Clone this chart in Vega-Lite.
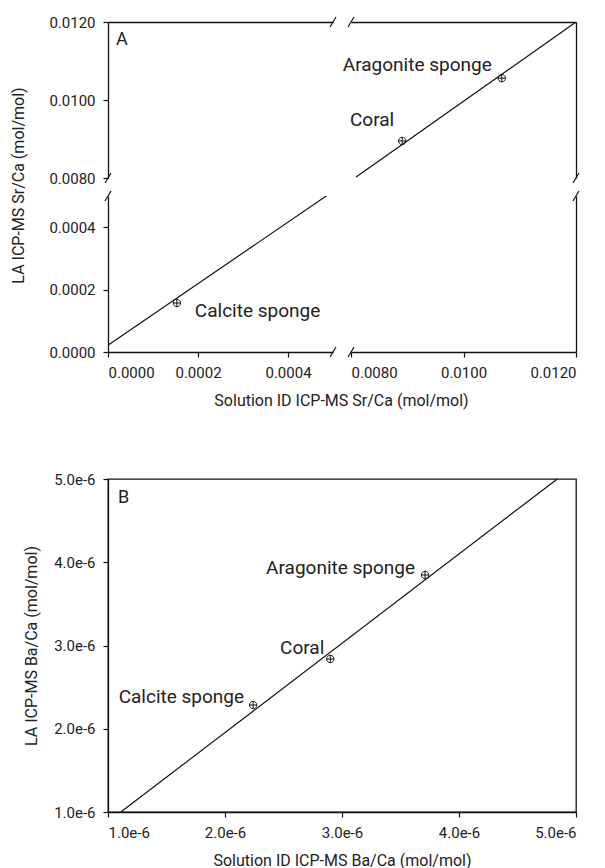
{
  "$schema": "https://vega.github.io/schema/vega-lite/v6.json",
  "padding": {"top": 14, "left": 10, "right": 5, "bottom": 2},
  "background": "white",
  "config": {
    "view": {"stroke": null},
    "font": "Roboto",
    "axis": {
      "grid": false,
      "domainColor": "#111",
      "domainWidth": 1.3,
      "tickColor": "#111",
      "tickWidth": 1.2,
      "tickSize": 5,
      "labelColor": "#222",
      "labelFont": "Roboto",
      "labelFontSize": 15,
      "labelPadding": 8,
      "titleFont": "Roboto",
      "titleFontSize": 16,
      "titleFontWeight": "normal",
      "titleColor": "#222"
    },
    "text": {"font": "Roboto", "fontSize": 19, "color": "#222"}
  },
  "datasets": {
    "ptsA": [
      {"name": "Calcite sponge", "x": 0.000153, "y": 0.000157},
      {"name": "Coral", "x": 0.00891, "y": 0.00895},
      {"name": "Aragonite sponge", "x": 0.01068, "y": 0.01056}
    ],
    "lineA": [
      {"seg": "low", "x": 0, "y": 0.000022},
      {"seg": "low", "x": 0.000487, "y": 0.000502},
      {"seg": "high", "x": 0.00809, "y": 0.008026},
      {"seg": "high", "x": 0.012, "y": 0.012}
    ],
    "breaksA": [
      {"x": 0.0005, "y": 0.012},
      {"x": 0, "y": 0.008},
      {"x": 0.008, "y": 0.012},
      {"x": 0.012, "y": 0.008},
      {"x": 0, "y": 0.0005},
      {"x": 0.0005, "y": 0},
      {"x": 0.008, "y": 0},
      {"x": 0.012, "y": 0.0005}
    ],
    "ptsB": [
      {"name": "Calcite sponge", "x": 2.24e-6, "y": 2.285e-6},
      {"name": "Coral", "x": 2.90e-6, "y": 2.838e-6},
      {"name": "Aragonite sponge", "x": 3.71e-6, "y": 3.847e-6}
    ],
    "lineB": [
      {"x": 1.11e-6, "y": 1.0e-6},
      {"x": 4.84e-6, "y": 5.0e-6}
    ]
  },
  "concat": [
    {
      "columns": 2,
      "spacing": 18,
      "bounds": "flush",
      "concat": [
        {
          "width": 225, "height": 156,
          "layer": [
            {
              "data": {"name": "breaksA"},
              "transform": [{"filter": "datum.x <= 0.0005 && datum.y >= 0.008"}],
              "mark": {"type": "point", "shape": "M-0.6,1L0.6,-1", "size": 100, "stroke": "#111", "strokeWidth": 1.2, "opacity": 1},
              "encoding": {
                "x": {"field": "x", "type": "quantitative", "scale": {"domain": [0, 0.0005], "nice": false, "zero": false},
                      "axis": {"orient": "top", "labels": false, "ticks": false, "title": null}},
                "y": {"field": "y", "type": "quantitative", "scale": {"domain": [0.008, 0.012], "nice": false, "zero": false},
                      "axis": {"values": [0.008, 0.01, 0.012], "format": ".4f", "title": null}}
              }
            },
            {
              "data": {"values": [{}]},
              "mark": {"type": "text", "text": "A", "align": "left", "baseline": "middle", "dx": 8, "dy": 18, "fontSize": 18},
              "encoding": {"x": {"datum": 0, "type": "quantitative"}, "y": {"datum": 0.012, "type": "quantitative"}}
            }
          ]
        },
        {
          "width": 225, "height": 156,
          "layer": [
            {
              "data": {"name": "lineA"},
              "mark": {"type": "line", "clip": true, "color": "#111", "strokeWidth": 1.2},
              "encoding": {
                "x": {"field": "x", "type": "quantitative", "scale": {"domain": [0.008, 0.012], "nice": false, "zero": false},
                      "axis": {"orient": "top", "labels": false, "ticks": false, "title": null}},
                "y": {"field": "y", "type": "quantitative", "scale": {"domain": [0.008, 0.012], "nice": false, "zero": false},
                      "axis": {"orient": "right", "labels": false, "ticks": false, "title": null}},
                "detail": {"field": "seg"}
              }
            },
            {
              "data": {"name": "ptsA"},
              "mark": {"type": "point", "clip": true, "shape": "M-1,0A1,1 0 1,0 1,0A1,1 0 1,0 -1,0ZM-1,0L1,0M0,-1L0,1", "size": 55, "stroke": "#111", "strokeWidth": 1, "opacity": 1},
              "encoding": {"x": {"field": "x", "type": "quantitative"}, "y": {"field": "y", "type": "quantitative"}}
            },
            {
              "data": {"name": "ptsA"},
              "transform": [{"filter": "datum.name === 'Coral'"}],
              "mark": {"type": "text", "align": "right", "baseline": "middle", "dx": -8, "dy": -21},
              "encoding": {"x": {"field": "x", "type": "quantitative"}, "y": {"field": "y", "type": "quantitative"}, "text": {"field": "name"}}
            },
            {
              "data": {"name": "ptsA"},
              "transform": [{"filter": "datum.name === 'Aragonite sponge'"}],
              "mark": {"type": "text", "align": "right", "baseline": "middle", "dx": -10, "dy": -13},
              "encoding": {"x": {"field": "x", "type": "quantitative"}, "y": {"field": "y", "type": "quantitative"}, "text": {"field": "name"}}
            },
            {
              "data": {"name": "breaksA"},
              "transform": [{"filter": "datum.x >= 0.008 && datum.y >= 0.008"}],
              "mark": {"type": "point", "shape": "M-0.6,1L0.6,-1", "size": 100, "stroke": "#111", "strokeWidth": 1.2, "opacity": 1},
              "encoding": {"x": {"field": "x", "type": "quantitative"}, "y": {"field": "y", "type": "quantitative"}}
            }
          ]
        },
        {
          "width": 225, "height": 156,
          "layer": [
            {
              "data": {"name": "lineA"},
              "mark": {"type": "line", "clip": true, "color": "#111", "strokeWidth": 1.2},
              "encoding": {
                "x": {"field": "x", "type": "quantitative", "scale": {"domain": [0, 0.0005], "nice": false, "zero": false},
                      "axis": {"values": [0, 0.0002, 0.0004], "format": ".4f", "title": "Solution ID ICP-MS Sr/Ca (mol/mol)", "titleX": 233, "titlePadding": 12}},
                "y": {"field": "y", "type": "quantitative", "scale": {"domain": [0, 0.0005], "nice": false, "zero": false},
                      "axis": {"values": [0, 0.0002, 0.0004], "format": ".4f", "title": "LA ICP-MS Sr/Ca (mol/mol)", "titleY": -11, "titlePadding": 22}},
                "detail": {"field": "seg"}
              }
            },
            {
              "data": {"name": "ptsA"},
              "mark": {"type": "point", "clip": true, "shape": "M-1,0A1,1 0 1,0 1,0A1,1 0 1,0 -1,0ZM-1,0L1,0M0,-1L0,1", "size": 55, "stroke": "#111", "strokeWidth": 1, "opacity": 1},
              "encoding": {"x": {"field": "x", "type": "quantitative"}, "y": {"field": "y", "type": "quantitative"}}
            },
            {
              "data": {"name": "ptsA"},
              "transform": [{"filter": "datum.name === 'Calcite sponge'"}],
              "mark": {"type": "text", "align": "left", "baseline": "middle", "dx": 18, "dy": 8},
              "encoding": {"x": {"field": "x", "type": "quantitative"}, "y": {"field": "y", "type": "quantitative"}, "text": {"field": "name"}}
            },
            {
              "data": {"name": "breaksA"},
              "transform": [{"filter": "datum.x <= 0.0005 && datum.y <= 0.0005"}],
              "mark": {"type": "point", "shape": "M-0.6,1L0.6,-1", "size": 100, "stroke": "#111", "strokeWidth": 1.2, "opacity": 1},
              "encoding": {"x": {"field": "x", "type": "quantitative"}, "y": {"field": "y", "type": "quantitative"}}
            }
          ]
        },
        {
          "width": 225, "height": 156,
          "layer": [
            {
              "data": {"name": "breaksA"},
              "transform": [{"filter": "datum.x >= 0.008 && datum.y <= 0.0005"}],
              "mark": {"type": "point", "shape": "M-0.6,1L0.6,-1", "size": 100, "stroke": "#111", "strokeWidth": 1.2, "opacity": 1},
              "encoding": {
                "x": {"field": "x", "type": "quantitative", "scale": {"domain": [0.008, 0.012], "nice": false, "zero": false},
                      "axis": {"values": [0.008, 0.01, 0.012], "format": ".4f", "title": null}},
                "y": {"field": "y", "type": "quantitative", "scale": {"domain": [0, 0.0005], "nice": false, "zero": false},
                      "axis": {"orient": "right", "labels": false, "ticks": false, "title": null}}
              }
            }
          ]
        }
      ]
    },
    {
      "width": 468, "height": 333,
      "view": {"stroke": "#111", "strokeWidth": 1.3},
      "layer": [
        {
          "data": {"name": "lineB"},
          "mark": {"type": "line", "color": "#111", "strokeWidth": 1.2},
          "encoding": {
            "x": {"field": "x", "type": "quantitative", "scale": {"domain": [1e-6, 5e-6], "nice": false, "zero": false},
                  "axis": {"values": [1e-6, 2e-6, 3e-6, 4e-6, 5e-6], "format": ".1e", "title": "Solution ID ICP-MS Ba/Ca (mol/mol)", "titlePadding": 12}},
            "y": {"field": "y", "type": "quantitative", "scale": {"domain": [1e-6, 5e-6], "nice": false, "zero": false},
                  "axis": {"values": [1e-6, 2e-6, 3e-6, 4e-6, 5e-6], "format": ".1e", "title": "LA ICP-MS Ba/Ca (mol/mol)", "titlePadding": 14}}
          }
        },
        {
          "data": {"name": "ptsB"},
          "mark": {"type": "point", "shape": "M-1,0A1,1 0 1,0 1,0A1,1 0 1,0 -1,0ZM-1,0L1,0M0,-1L0,1", "size": 55, "stroke": "#111", "strokeWidth": 1, "opacity": 1},
          "encoding": {"x": {"field": "x", "type": "quantitative"}, "y": {"field": "y", "type": "quantitative"}}
        },
        {
          "data": {"name": "ptsB"},
          "transform": [{"filter": "datum.name === 'Calcite sponge'"}],
          "mark": {"type": "text", "align": "right", "baseline": "middle", "dx": -9, "dy": -8},
          "encoding": {"x": {"field": "x", "type": "quantitative"}, "y": {"field": "y", "type": "quantitative"}, "text": {"field": "name"}}
        },
        {
          "data": {"name": "ptsB"},
          "transform": [{"filter": "datum.name === 'Coral'"}],
          "mark": {"type": "text", "align": "right", "baseline": "middle", "dx": -6, "dy": -11},
          "encoding": {"x": {"field": "x", "type": "quantitative"}, "y": {"field": "y", "type": "quantitative"}, "text": {"field": "name"}}
        },
        {
          "data": {"name": "ptsB"},
          "transform": [{"filter": "datum.name === 'Aragonite sponge'"}],
          "mark": {"type": "text", "align": "right", "baseline": "middle", "dx": -10, "dy": -7},
          "encoding": {"x": {"field": "x", "type": "quantitative"}, "y": {"field": "y", "type": "quantitative"}, "text": {"field": "name"}}
        },
        {
          "data": {"values": [{}]},
          "mark": {"type": "text", "text": "B", "align": "left", "baseline": "middle", "dx": 10, "dy": 19, "fontSize": 18},
          "encoding": {"x": {"datum": 1e-6, "type": "quantitative"}, "y": {"datum": 5e-6, "type": "quantitative"}}
        }
      ]
    }
  ],
  "columns": 1,
  "spacing": 63,
  "align": "none"
}
